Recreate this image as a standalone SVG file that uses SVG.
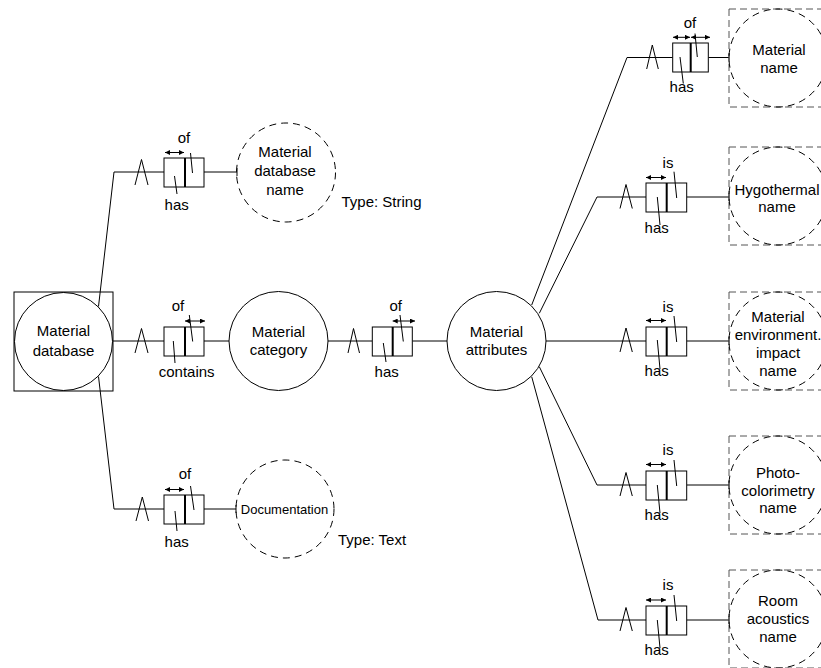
<svg xmlns="http://www.w3.org/2000/svg" width="821" height="668" viewBox="0 0 821 668">
<style>
.ln{stroke:#000;stroke-width:1;fill:none}
.dv{stroke:#000;stroke-width:2;fill:none}
.bx{stroke:#000;stroke-width:1;fill:#fff}
.dc{stroke:#000;stroke-width:1;fill:none;stroke-dasharray:7 5}
.sq{stroke:#555;stroke-width:1;fill:none;stroke-dasharray:7 4}
.ar{stroke:#000;stroke-width:1;fill:none;marker-start:url(#ah);marker-end:url(#ah)}
text{font-family:"Liberation Sans",Arial,sans-serif;font-size:15px;fill:#000;text-anchor:middle}
.st{text-anchor:start}
.sm{font-size:13px}
</style>
<defs>
<marker id="ah" viewBox="0 0 6 6" refX="6" refY="3" markerWidth="6" markerHeight="5" orient="auto-start-reverse" markerUnits="userSpaceOnUse"><path d="M0,0 L6,3 L0,6 z" fill="#000"/></marker>
</defs>
<rect width="821" height="668" fill="#fff"/>

<g id="connectors">
<!-- left branches -->
<polyline class="ln" points="98.5,306.5 114,172 164,172"/>
<polyline class="ln" points="135,185 141.5,159.5 148,185"/>
<line class="ln" x1="204" y1="172" x2="237" y2="172"/>
<line class="ln" x1="237" y1="168" x2="237" y2="176"/>

<line class="ln" x1="113" y1="341" x2="164" y2="341"/>
<polyline class="ln" points="135,353 141.5,328.5 148,353"/>
<line class="ln" x1="204" y1="341" x2="229" y2="341"/>
<line class="ln" x1="328" y1="341" x2="372.3" y2="341"/>
<polyline class="ln" points="348,353 353.5,328.5 359.5,353"/>
<line class="ln" x1="412.3" y1="341" x2="447" y2="341"/>

<polyline class="ln" points="98.5,376.5 114,509 164,509"/>
<polyline class="ln" points="136,521 142.3,497 148.5,521"/>
<line class="ln" x1="204" y1="509" x2="236" y2="509"/>
<line class="ln" x1="236" y1="505" x2="236" y2="513"/>

<!-- right branches -->
<polyline class="ln" points="531.7,305 627,57.5 672.7,57.5"/>
<polyline class="ln" points="646.7,69 652.3,45 658.3,69"/>
<line class="ln" x1="708.3" y1="57.5" x2="729" y2="57.5"/>
<line class="ln" x1="729" y1="53.5" x2="729" y2="61.5"/>

<polyline class="ln" points="539.3,313.3 597,197 646,197"/>
<polyline class="ln" points="620,208.5 626,184.5 632.3,208.5"/>
<line class="ln" x1="686.7" y1="197" x2="729" y2="197"/>
<line class="ln" x1="729" y1="193" x2="729" y2="201"/>

<line class="ln" x1="546" y1="341" x2="646" y2="341"/>
<polyline class="ln" points="620,352 626,328 632.3,352"/>
<line class="ln" x1="686.7" y1="341" x2="729" y2="341"/>
<line class="ln" x1="729" y1="337" x2="729" y2="345"/>

<polyline class="ln" points="539.3,366.7 597,485 646,485"/>
<polyline class="ln" points="620,496 626,472.5 632.3,496"/>
<line class="ln" x1="686.7" y1="485" x2="729" y2="485"/>
<line class="ln" x1="729" y1="481" x2="729" y2="489"/>

<polyline class="ln" points="531.7,376.7 598,620 646,620"/>
<polyline class="ln" points="620,631 626,607.5 632.3,631"/>
<line class="ln" x1="686.7" y1="620" x2="729" y2="620"/>
<line class="ln" x1="729" y1="616" x2="729" y2="624"/>
</g>

<!-- entity nodes -->
<g id="material-database">
<rect class="ln" x="14" y="292" width="99" height="99"/>
<circle class="ln" cx="63.5" cy="341.5" r="49"/>
<text x="63.5" y="336">Material</text>
<text x="63.5" y="356">database</text>
</g>

<g id="material-database-name">
<circle class="dc" cx="286" cy="172.5" r="49.5"/>
<text x="285" y="157">Material</text>
<text x="285" y="176">database</text>
<text x="285" y="194.5">name</text>
<text class="st" x="341.5" y="207">Type: String</text>
</g>

<g id="material-category">
<circle class="ln" cx="278.5" cy="341" r="49.5"/>
<text x="278.5" y="336.5">Material</text>
<text x="278.5" y="355">category</text>
</g>

<g id="material-attributes">
<circle class="ln" cx="496.5" cy="341" r="49.5"/>
<text x="496.5" y="336.5">Material</text>
<text x="496.5" y="355">attributes</text>
</g>

<g id="documentation">
<circle class="dc" cx="285" cy="509" r="49"/>
<text class="sm" x="284.5" y="513.5">Documentation</text>
<text class="st" x="338" y="545">Type: Text</text>
</g>

<g id="material-name">
<rect class="sq" x="729" y="9" width="98" height="98"/>
<circle class="dc" cx="778" cy="58" r="49"/>
<text x="779" y="55">Material</text>
<text x="779" y="73">name</text>
</g>

<g id="hygothermal-name">
<rect class="sq" x="729" y="147" width="98" height="98"/>
<circle class="dc" cx="778" cy="196" r="49"/>
<text x="777" y="195">Hygothermal</text>
<text x="777" y="212">name</text>
</g>

<g id="environment-impact-name">
<rect class="sq" x="729" y="292" width="98" height="98"/>
<circle class="dc" cx="778" cy="341" r="49"/>
<text x="778" y="322">Material</text>
<text x="778" y="340">environment.</text>
<text x="778" y="358">impact</text>
<text x="778" y="376">name</text>
</g>

<g id="photo-colorimetry-name">
<rect class="sq" x="729" y="436" width="98" height="98"/>
<circle class="dc" cx="778" cy="485" r="49"/>
<text x="778" y="478">Photo-</text>
<text x="778" y="495.5">colorimetry</text>
<text x="778" y="513">name</text>
</g>

<g id="room-acoustics-name">
<rect class="sq" x="729" y="570" width="98" height="98"/>
<circle class="dc" cx="778" cy="619" r="49"/>
<text x="778" y="606">Room</text>
<text x="778" y="624">acoustics</text>
<text x="778" y="642">name</text>
</g>

<!-- relationship boxes -->
<g id="rel-db-name">
<rect class="bx" x="164" y="158" width="40" height="29"/>
<line class="dv" x1="185" y1="158" x2="185" y2="187"/>
<line class="ar" x1="165" y1="152.5" x2="184" y2="152.5"/>
<text x="184" y="143">of</text>
<line class="ln" x1="190.5" y1="153" x2="192.5" y2="173"/>
<text x="176.7" y="210">has</text>
<line class="ln" x1="177" y1="194" x2="174.5" y2="176"/>
</g>

<g id="rel-db-category">
<rect class="bx" x="164" y="327" width="40" height="29"/>
<line class="dv" x1="185" y1="327" x2="185" y2="356"/>
<line class="ar" x1="185" y1="321" x2="205" y2="321"/>
<text x="178" y="311">of</text>
<line class="ln" x1="189.3" y1="315" x2="192.7" y2="341.5"/>
<text x="186.7" y="377">contains</text>
<line class="ln" x1="175" y1="363" x2="173.3" y2="341"/>
</g>

<g id="rel-category-attributes">
<rect class="bx" x="372.3" y="327" width="40" height="29"/>
<line class="dv" x1="392.7" y1="327" x2="392.7" y2="356"/>
<line class="ar" x1="392.7" y1="321" x2="415" y2="321"/>
<text x="395.7" y="311">of</text>
<line class="ln" x1="400" y1="315" x2="403.3" y2="341.5"/>
<text x="386.7" y="377">has</text>
<line class="ln" x1="386" y1="362" x2="383.3" y2="343"/>
</g>

<g id="rel-db-documentation">
<rect class="bx" x="164" y="495" width="40" height="29"/>
<line class="dv" x1="185" y1="495" x2="185" y2="524"/>
<line class="ar" x1="165" y1="489.5" x2="184" y2="489.5"/>
<text x="185" y="479">of</text>
<line class="ln" x1="190.5" y1="486" x2="194" y2="510"/>
<text x="176.7" y="547">has</text>
<line class="ln" x1="177" y1="531" x2="175" y2="511"/>
</g>

<g id="rel-attr-material-name">
<rect class="bx" x="672.7" y="43" width="35.6" height="29"/>
<line class="dv" x1="690.7" y1="43" x2="690.7" y2="72"/>
<line class="ar" x1="673" y1="37.3" x2="690" y2="37.3"/>
<line class="ar" x1="691" y1="37.3" x2="710" y2="37.3"/>
<text x="690" y="28">of</text>
<line class="ln" x1="695" y1="33.5" x2="697.3" y2="57"/>
<text x="681.7" y="92">has</text>
<line class="ln" x1="683.3" y1="83.5" x2="680" y2="57"/>
</g>

<g id="rel-attr-hygothermal">
<rect class="bx" x="646" y="183" width="40.7" height="29"/>
<line class="dv" x1="666.7" y1="183" x2="666.7" y2="212"/>
<line class="ar" x1="646" y1="177.5" x2="666" y2="177.5"/>
<text x="668" y="168">is</text>
<line class="ln" x1="674" y1="171.7" x2="676.7" y2="198"/>
<text x="656.7" y="233">has</text>
<line class="ln" x1="660" y1="225" x2="657.3" y2="197"/>
</g>

<g id="rel-attr-environment">
<rect class="bx" x="646" y="327" width="40.7" height="29"/>
<line class="dv" x1="666.7" y1="327" x2="666.7" y2="356"/>
<line class="ar" x1="646" y1="320.5" x2="666" y2="320.5"/>
<text x="668" y="311.5">is</text>
<line class="ln" x1="674" y1="316" x2="676.7" y2="342"/>
<text x="656.7" y="376">has</text>
<line class="ln" x1="660" y1="369" x2="657.3" y2="340"/>
</g>

<g id="rel-attr-photo">
<rect class="bx" x="646" y="471" width="40.7" height="29"/>
<line class="dv" x1="666.7" y1="471" x2="666.7" y2="500"/>
<line class="ar" x1="646" y1="464.5" x2="666" y2="464.5"/>
<text x="668" y="455">is</text>
<line class="ln" x1="674" y1="460" x2="676.7" y2="486"/>
<text x="656.7" y="520">has</text>
<line class="ln" x1="660" y1="513" x2="657.3" y2="485"/>
</g>

<g id="rel-attr-room">
<rect class="bx" x="646" y="606" width="40.7" height="29"/>
<line class="dv" x1="666.7" y1="606" x2="666.7" y2="635"/>
<line class="ar" x1="646" y1="600" x2="666" y2="600"/>
<text x="668" y="590">is</text>
<line class="ln" x1="674" y1="595" x2="676.7" y2="621"/>
<text x="656.7" y="655">has</text>
<line class="ln" x1="660" y1="648" x2="657.3" y2="620"/>
</g>
</svg>
